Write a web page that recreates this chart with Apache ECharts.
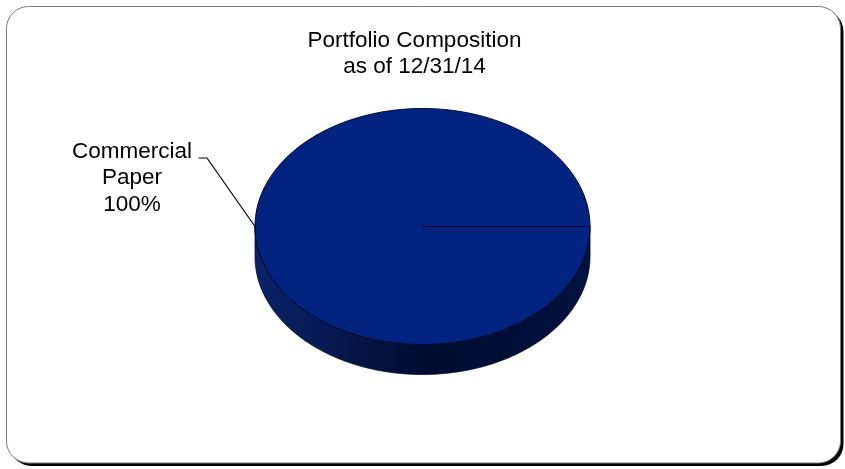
<!DOCTYPE html>
<html>
<head>
<meta charset="utf-8">
<script src="https://cdn.jsdelivr.net/npm/echarts@6/dist/echarts.min.js"></script>
<style>
html,body{margin:0;padding:0;background:#fff;}
#chart{width:845px;height:469px;}
</style>
</head>
<body>
<div id="chart"></div>
<script>
// ---- data ----
const categories = ['Commercial Paper'];
const values = [100];
const titleLines = ['Portfolio Composition', 'as of 12/31/14'];

// ---- layout ----
const PIE = { cx: 422.5, cy: 226.5, rx: 167.5, ry: 118, depth: 30 };
const FONT = '"Liberation Sans", Arial, sans-serif';

function pt(a, dy) {
  return [PIE.cx + PIE.rx * Math.cos(a), PIE.cy + PIE.ry * Math.sin(a) + (dy || 0)];
}

const chart = echarts.init(document.getElementById('chart'), null, { renderer: 'canvas' });

function renderItem(params, api) {
  const i = params.dataIndex;
  const total = values.reduce((s, v) => s + v, 0);
  let before = 0;
  for (let k = 0; k < i; k++) before += values[k];
  const v = api.value(0);
  const a0 = before / total * Math.PI * 2;
  const a1 = (before + v) / total * Math.PI * 2;
  const N = 360;
  const children = [];

  // visible side (front half: angles 0..PI)
  const s0 = Math.max(a0, 0), s1 = Math.min(a1, Math.PI);
  if (s1 > s0) {
    const side = [];
    for (let j = 0; j <= N; j++) side.push(pt(s0 + (s1 - s0) * j / N));
    for (let j = N; j >= 0; j--) side.push(pt(s0 + (s1 - s0) * j / N, PIE.depth));
    children.push({
      type: 'polygon',
      shape: { points: side },
      style: {
        fill: {
          type: 'linear', x: 0, y: 0, x2: 1, y2: 0,
          colorStops: [
            { offset: 0, color: '#0b236a' },
            { offset: 0.5, color: '#000c31' },
            { offset: 1, color: '#01123e' }
          ]
        },
        stroke: '#000a24',
        lineWidth: 0.8
      }
    });
  }

  // top face
  const top = [[PIE.cx, PIE.cy]];
  for (let j = 0; j <= N; j++) top.push(pt(a0 + (a1 - a0) * j / N));
  children.push({
    type: 'polygon',
    shape: { points: top },
    style: { fill: '#022480', stroke: '#00092a', lineWidth: 1 }
  });

  // label with leader line
  const am = (a0 + a1) / 2;
  const anc = pt(am);
  const elbow = [anc[0] - 48, anc[1] - 68.5];
  const end = [elbow[0] - 8.5, elbow[1]];
  children.push({
    type: 'polyline',
    shape: { points: [anc, elbow, end] },
    style: { stroke: '#000', lineWidth: 1.2, fill: null }
  });
  const pct = Math.round(v / total * 100) + '%';
  children.push({
    type: 'text',
    style: {
      text: categories[i].replace(' ', '\n') + '\n' + pct,
      x: anc[0] - 123,
      y: anc[1] - 48.5,
      align: 'center',
      verticalAlign: 'middle',
      fontSize: 22.5,
      fontFamily: FONT,
      lineHeight: 26.5,
      fill: '#000'
    }
  });

  return { type: 'group', children: children };
}

const option = {
  backgroundColor: '#fff',
  animation: false,
  graphic: [
    {
      type: 'rect', z: -20, silent: true,
      shape: { x: 9.5, y: 9.5, width: 834, height: 456.5, r: 22 },
      style: { fill: '#000' }
    },
    {
      type: 'rect', z: -10, silent: true,
      shape: { x: 6.5, y: 6.5, width: 834, height: 456.5, r: 22 },
      style: { fill: '#fff', stroke: '#7a7a7a', lineWidth: 1 }
    },
    {
      type: 'text', z: 10,
      style: {
        text: titleLines.join('\n'),
        x: 414.5, y: 54,
        align: 'center', verticalAlign: 'middle',
        fontSize: 22.5, fontFamily: FONT, lineHeight: 26,
        fill: '#000'
      }
    }
  ],
  series: [{
    type: 'custom',
    coordinateSystem: 'none',
    data: values.map(v => [v]),
    renderItem: renderItem
  }]
};
chart.setOption(option);
</script>
</body>
</html>
